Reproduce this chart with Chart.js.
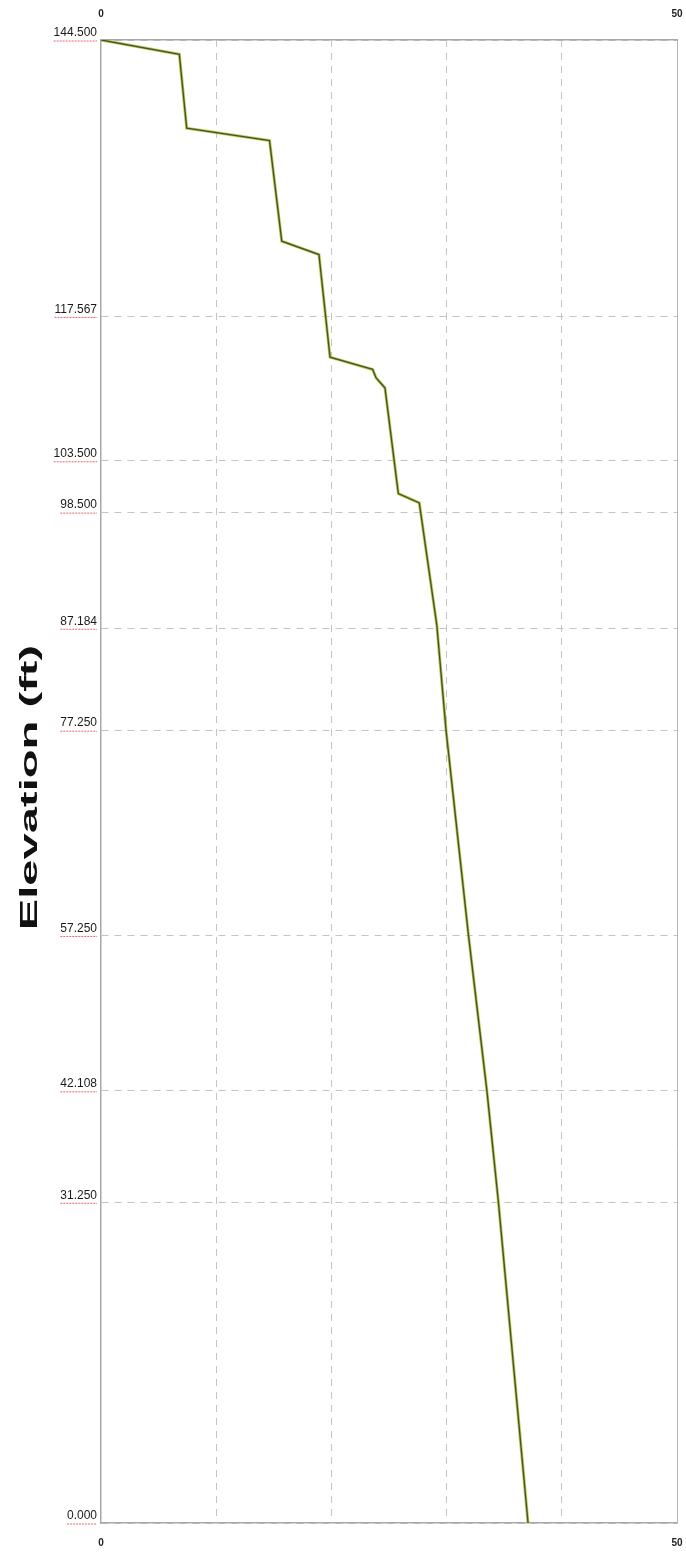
<!DOCTYPE html>
<html>
<head>
<meta charset="utf-8">
<script src="https://cdn.jsdelivr.net/npm/chart.js@4.4.1/dist/chart.umd.min.js"></script>
<style>
  html, body { margin: 0; padding: 0; background: #fff; }
  #wrap { width: 686px; height: 1553px; }
</style>
</head>
<body>
<div id="wrap"><canvas id="profile" width="686" height="1553"></canvas></div>
<script>
// values
const headValues = [0, 6.8, 7.44, 14.63, 15.69, 18.92, 19.88, 23.58, 23.87, 24.65, 25.81, 27.63, 29.15, 29.95, 31.9, 33.5, 34.5, 37.07];
const elevations = [144.5, 143.1, 135.9, 134.7, 124.9, 123.6, 113.6, 112.4, 111.6, 110.6, 100.3, 99.4, 87.5, 77.25, 57.25, 42.1, 31.25, 0];
const elevationTicks = [144.5, 117.567, 103.5, 98.5, 87.184, 77.25, 57.25, 42.108, 31.25, 0];
const headGridTicks = [0, 10, 20, 30, 40, 50];
const headLabelTicks = [0, 50];
const yTitle = 'Elevation (ft)';

const points = headValues.map((h, i) => ({ x: h, y: elevations[i] }));

// red underline below each elevation label + stretched axis title
const decorPlugin = {
    id: 'decor',
    afterDraw(chart) {
        const ctx = chart.ctx;
        const yScale = chart.scales.y;
        const area = chart.chartArea;
        ctx.save();
        ctx.font = '12px "Liberation Sans", Arial, sans-serif';
        ctx.strokeStyle = 'rgba(225, 60, 80, 0.8)';
        ctx.lineWidth = 1;
        ctx.setLineDash([2, 1]);
        elevationTicks.forEach(v => {
            const y = yScale.getPixelForValue(v) + 1;
            const w = ctx.measureText(v.toFixed(3)).width;
            ctx.beginPath();
            ctx.moveTo(97 - w, y);
            ctx.lineTo(97, y);
            ctx.stroke();
        });
        ctx.restore();

        // the title in the picture is stretched along its length
        ctx.save();
        ctx.translate(31, (area.top + area.bottom) / 2 + 6);
        ctx.rotate(-Math.PI / 2);
        ctx.scale(2.05, 1);
        ctx.font = 'bold 23px "Liberation Sans", Arial, sans-serif';
        ctx.fillStyle = '#111';
        ctx.textAlign = 'center';
        ctx.textBaseline = 'middle';
        ctx.fillText(yTitle, 0, 0);
        ctx.restore();
    }
};

const ctx = document.getElementById('profile').getContext('2d');
new Chart(ctx, {
    type: 'line',
    data: {
        datasets: [
            {
                data: points,
                borderColor: '#4d4d3c',
                borderWidth: 1.4,
                pointRadius: 0,
                tension: 0
            },
            {
                data: points,
                borderColor: 'rgba(165, 205, 35, 0.85)',
                borderWidth: 3,
                pointRadius: 0,
                tension: 0
            }
        ]
    },
    options: {
        responsive: false,
        animation: false,
        layout: { padding: { left: 0, right: 9, top: 0, bottom: 0 } },
        plugins: {
            legend: { display: false },
            tooltip: { enabled: false }
        },
        scales: {
            x: {
                type: 'linear',
                position: 'bottom',
                min: 0,
                max: 50,
                afterBuildTicks: s => { s.ticks = headGridTicks.map(v => ({ value: v })); },
                afterFit: s => { s.height = 30; s.paddingLeft = 0; s.paddingRight = 0; },
                ticks: {
                    autoSkip: false,
                    maxRotation: 0,
                    padding: 14,
                    color: '#222',
                    font: { size: 10, weight: 'bold', family: '"Liberation Sans", Arial, sans-serif' },
                    callback: v => headLabelTicks.includes(v) ? String(v) : ''
                },
                grid: {
                    drawTicks: false,
                    color: c => (c.tick && c.tick.value === 0) ? 'transparent' : (c.tick && c.tick.value === 50 ? '#b5b5b5' : '#c4c4c4'),
                    lineWidth: 1
                },
                border: {
                    display: true,
                    color: '#a8a8a8',
                    width: 1.5,
                    dash: c => (c.tick && c.tick.value === 50) ? [] : [7, 6]
                }
            },
            x2: {
                type: 'linear',
                position: 'top',
                min: 0,
                max: 50,
                afterBuildTicks: s => { s.ticks = headLabelTicks.map(v => ({ value: v })); },
                afterFit: s => { s.height = 40; s.paddingLeft = 0; s.paddingRight = 0; },
                ticks: {
                    autoSkip: false,
                    maxRotation: 0,
                    padding: 20,
                    color: '#222',
                    font: { size: 10, weight: 'bold', family: '"Liberation Sans", Arial, sans-serif' }
                },
                grid: { display: false, drawTicks: false },
                border: { display: true, color: '#a8a8a8', width: 1.5 }
            },
            y: {
                type: 'linear',
                min: 0,
                max: 144.5,
                afterBuildTicks: s => { s.ticks = elevationTicks.map(v => ({ value: v })); },
                afterFit: s => { s.width = 101; s.paddingTop = 0; s.paddingBottom = 0; },
                ticks: {
                    autoSkip: false,
                    padding: 4,
                    labelOffset: -7,
                    color: '#1a1a1a',
                    font: { size: 12, family: '"Liberation Sans", Arial, sans-serif' },
                    callback: v => Number(v).toFixed(3)
                },
                grid: {
                    drawTicks: false,
                    color: '#c4c4c4',
                    lineWidth: 1
                },
                border: {
                    display: true,
                    color: '#a8a8a8',
                    width: 1.5,
                    dash: [7, 6]
                }
            }
        }
    },
    plugins: [decorPlugin]
});
</script>
</body>
</html>
